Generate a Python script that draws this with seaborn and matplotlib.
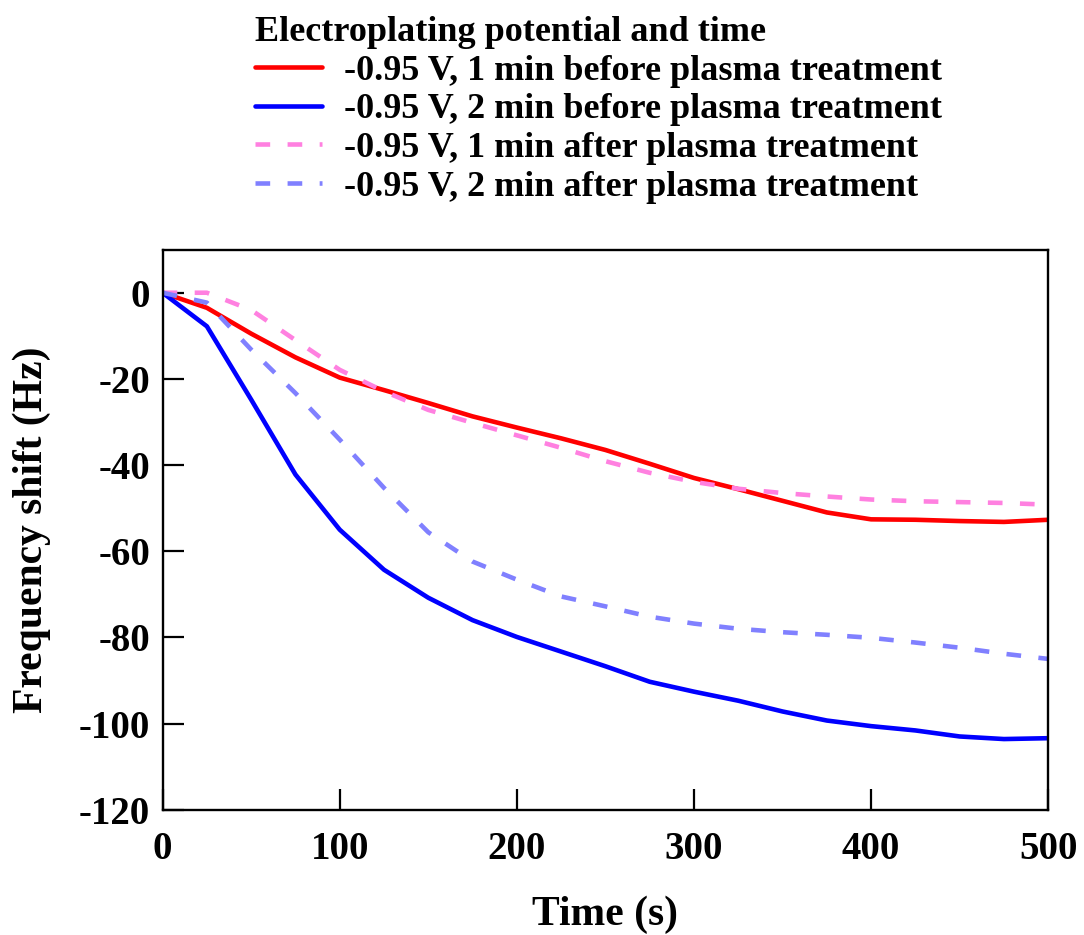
import numpy as np
import pandas as pd
import matplotlib
matplotlib.use("Agg")
import matplotlib.pyplot as plt
import seaborn as sns

# time axis (s), one point every 25 s
time_s = [0, 25, 50, 75, 100, 125, 150, 175, 200, 225, 250, 275, 300, 325,
          350, 375, 400, 425, 450, 475, 500]

red_1min_before = [0, -3.5, -9.5, -15, -19.7, -22.6, -25.6, -28.7, -31.3, -33.8, -36.5,
                   -39.7, -43.0, -45.6, -48.3, -51.0, -52.6, -52.7, -53.0, -53.2, -52.7]
blue_2min_before = [0, -7.8, -24.8, -42.2, -55.0, -64.3, -70.8, -76.0, -79.9, -83.3, -86.7,
                    -90.3, -92.6, -94.7, -97.2, -99.3, -100.6, -101.6, -103.0, -103.6, -103.4]
pink_1min_after = [0, 0, -4.0, -11.0, -17.9, -22.9, -27.2, -30.2, -33.1, -36.0, -39.1,
                   -41.8, -43.9, -45.5, -46.5, -47.3, -48.0, -48.4, -48.6, -48.8, -49.2]
lblue_2min_after = [0, -2.3, -13.2, -23.3, -34.1, -45.3, -55.6, -62.4, -66.6, -70.5, -72.8,
                    -75.2, -76.8, -78.0, -78.8, -79.4, -80.1, -81.2, -82.4, -83.8, -85.0]

labels = ["-0.95 V, 1 min before plasma treatment",
          "-0.95 V, 2 min before plasma treatment",
          "-0.95 V, 1 min after plasma treatment",
          "-0.95 V, 2 min after plasma treatment"]
series = [red_1min_before, blue_2min_before, pink_1min_after, lblue_2min_after]
colors = ["#ff0000", "#0000ff", "#ff80e0", "#8080ff"]
styles = ["-", "-", "--", "--"]

sns.set_style("white")
plt.rcParams['font.family'] = ['Liberation Serif', 'DejaVu Serif']
plt.rcParams['font.weight'] = 'bold'
plt.rcParams['axes.unicode_minus'] = False
plt.rcParams['text.color'] = 'black'
plt.rcParams['axes.labelcolor'] = 'black'
plt.rcParams['xtick.color'] = 'black'
plt.rcParams['ytick.color'] = 'black'

fig = plt.figure(figsize=(10.84, 9.35), dpi=100)
ax = fig.add_axes([0.150, 0.134, 0.817, 0.599])

for lab, vals, col, ls in zip(labels, series, colors, styles):
	df = pd.DataFrame({"t": time_s, "f": vals})
	line = sns.lineplot(data=df, x="t", y="f", ax=ax, color=col, linewidth=3.3, label=lab)
	if ls == "--":
		line.lines[-1].set_dashes((3.2, 3.8))

ax.set_xlim(0, 500)
ax.set_ylim(-120, 10)
ax.set_xticks([0, 100, 200, 300, 400, 500])
ax.set_yticks([0, -20, -40, -60, -80, -100, -120])
ax.tick_params(direction='in', length=15, width=1.6, labelsize=28,
               top=False, right=False, bottom=True, left=True)
ax.tick_params(axis='x', pad=15)
ax.tick_params(axis='y', pad=9)
for lbl in ax.get_xticklabels() + ax.get_yticklabels():
	lbl.set_fontweight('bold')
for sp in ax.spines.values():
	sp.set_visible(True)
	sp.set_color('black')
	sp.set_linewidth(1.7)

ax.set_xlabel("Time (s)", fontsize=30, weight='bold', labelpad=20)
ax.set_ylabel("Frequency shift (Hz)", fontsize=30, weight='bold', labelpad=20)

handles, labs = ax.get_legend_handles_labels()
ax.get_legend().remove()
leg = fig.legend(handles, labs, loc='upper left', bbox_to_anchor=(0.212, 1.01),
                 frameon=False, title="Electroplating potential and time",
                 prop={'weight': 'bold', 'size': 26}, title_fontproperties={'weight': 'bold', 'size': 26},
                 handlelength=1.85, handletextpad=0.6, labelspacing=0.15, alignment='left',
                 borderaxespad=0.3)

fig.savefig("out.png", dpi=100)
